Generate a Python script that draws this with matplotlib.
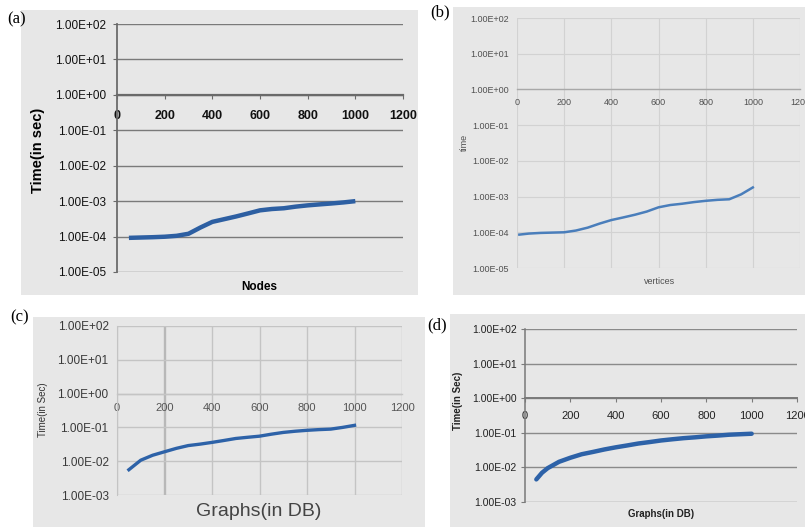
import matplotlib
matplotlib.use('Agg')
import matplotlib.pyplot as plt
from matplotlib.patches import Rectangle
from matplotlib.ticker import FixedLocator, FixedFormatter, NullLocator

W, H = 805, 527

# (a) time vs nodes
nodes_a = [50, 100, 150, 200, 250, 300, 350, 400, 450, 500, 550, 600, 650,
           700, 750, 800, 850, 900, 950, 1000]
time_a = [9.2e-5, 9.4e-5, 9.6e-5, 9.9e-5, 1.05e-4, 1.2e-4, 1.8e-4, 2.6e-4,
          3.1e-4, 3.7e-4, 4.5e-4, 5.5e-4, 6.0e-4, 6.3e-4, 7.0e-4, 7.6e-4,
          8.1e-4, 8.6e-4, 9.2e-4, 1.0e-3]

# (b) time vs vertices
vert_b = [10, 50, 100, 150, 200, 250, 300, 350, 400, 450, 500, 550, 600, 650,
          700, 750, 800, 850, 900, 950, 1000]
time_b = [8.6e-5, 9.2e-5, 9.6e-5, 9.8e-5, 1.0e-4, 1.12e-4, 1.35e-4, 1.75e-4,
          2.2e-4, 2.6e-4, 3.1e-4, 3.8e-4, 5.0e-4, 5.8e-4, 6.3e-4, 7.0e-4,
          7.6e-4, 8.1e-4, 8.4e-4, 1.15e-3, 1.8e-3]

# (c) time vs graphs in DB
graphs_c = [50, 100, 150, 200, 250, 300, 350, 400, 450, 500, 550, 600, 650,
            700, 750, 800, 850, 900, 950, 1000]
time_c = [5.6e-3, 1.07e-2, 1.5e-2, 1.9e-2, 2.4e-2, 2.9e-2, 3.2e-2, 3.6e-2,
          4.1e-2, 4.7e-2, 5.1e-2, 5.5e-2, 6.3e-2, 7.1e-2, 7.7e-2, 8.2e-2,
          8.6e-2, 8.9e-2, 1.0e-1, 1.15e-1]

# (d) time vs graphs in DB
graphs_d = [50, 75, 100, 150, 200, 250, 300, 350, 400, 450, 500, 550, 600,
            650, 700, 750, 800, 850, 900, 950, 1000]
time_d = [4.5e-3, 7e-3, 9.5e-3, 1.45e-2, 1.9e-2, 2.4e-2, 2.8e-2, 3.3e-2,
          3.8e-2, 4.3e-2, 4.9e-2, 5.4e-2, 6.0e-2, 6.5e-2, 7.0e-2, 7.4e-2,
          7.9e-2, 8.3e-2, 8.8e-2, 9.1e-2, 9.4e-2]

x_ticks = [0, 200, 400, 600, 800, 1000, 1200]
exp_ab = [2, 1, 0, -1, -2, -3, -4, -5]
exp_cd = [2, 1, 0, -1, -2, -3]


def box(l, t, r, b):
    # pixel box (from top-left) -> figure fraction
    return [l / W, 1 - b / H, (r - l) / W, (b - t) / H]


def ftext(fig, x, y, s, **kw):
    fig.text(x / W, 1 - y / H, s, ha='center', va='center', **kw)


def bg(fig, l, t, r, b):
    fig.patches.append(Rectangle((l / W, 1 - b / H), (r - l) / W, (b - t) / H,
                                 transform=fig.transFigure, facecolor='#e7e7e7',
                                 edgecolor='none', zorder=-1))


def setup(ax, exps, ylab_size, xlab_size, ylab_color, xlab_color,
          grid_color, grid_lw, axis_color, axis_lw, vgrid, ticks,
          xweight='normal', xpad=6, ypad=5):
    ax.set_facecolor('none')
    ax.set_yscale('log')
    ax.set_xlim(0, 1200)
    ax.set_ylim(10.0 ** min(exps), 10.0 ** max(exps))
    vals = [10.0 ** e for e in exps]
    labs = ['1.00E%s%02d' % ('+' if e >= 0 else '-', abs(e)) for e in exps]
    ax.yaxis.set_major_locator(FixedLocator(vals))
    ax.yaxis.set_major_formatter(FixedFormatter(labs))
    ax.yaxis.set_minor_locator(NullLocator())
    ax.xaxis.set_major_locator(FixedLocator(x_ticks))
    ax.xaxis.set_major_formatter(FixedFormatter([str(t) for t in x_ticks]))
    ax.spines['top'].set_visible(False)
    ax.spines['right'].set_visible(False)
    ax.spines['bottom'].set_position(('data', 1.0))
    ax.spines['bottom'].set_color(axis_color)
    ax.spines['bottom'].set_linewidth(axis_lw)
    ax.spines['left'].set_color(axis_color)
    ax.spines['left'].set_linewidth(axis_lw * 0.8)
    ax.grid(axis='y', color=grid_color, lw=grid_lw)
    if vgrid:
        ax.grid(axis='x', color=grid_color, lw=grid_lw)
    ax.set_axisbelow(True)
    tl = 3 if ticks else 0
    ax.tick_params(axis='y', length=tl, width=0.8, color=axis_color, pad=ypad,
                   labelsize=ylab_size, labelcolor=ylab_color)
    ax.tick_params(axis='x', length=tl, width=0.8, color=axis_color, pad=xpad,
                   labelsize=xlab_size, labelcolor=xlab_color)
    for t in ax.get_xticklabels():
        t.set_fontweight(xweight)


plt.rcParams['font.family'] = ['Liberation Sans', 'DejaVu Sans']
fig = plt.figure(figsize=(W / 100, H / 100), dpi=100)

# panel backgrounds
bg(fig, 21, 10, 418, 295)
bg(fig, 453, 7, 805, 295)
bg(fig, 33, 317, 425, 527)
bg(fig, 450, 314, 805, 527)

# (a)
ax = fig.add_axes(box(117, 24, 403, 272))
setup(ax, exp_ab, 8.5, 9, '#111111', '#111111', '#7a7a7a', 1.0,
      '#6a6a6a', 1.6, False, True, xweight='bold', xpad=8, ypad=5)
ax.plot(nodes_a, time_a, color='#2d5fa2', lw=3.2, solid_capstyle='butt')
ftext(fig, 38, 150, 'Time(in sec)', rotation=90, fontsize=10.5, fontweight='bold')
ftext(fig, 259, 287, 'Nodes', fontsize=8.5, fontweight='bold')

# (b)
ax = fig.add_axes(box(517, 18, 800, 268))
setup(ax, exp_ab, 6.5, 6.5, '#505050', '#505050', '#d2d2d2', 0.8,
      '#a8a8a8', 1.0, True, False, xpad=6, ypad=6)
ax.spines['left'].set_visible(False)
ax.plot(vert_b, time_b, color='#4a7ebb', lw=1.8)
ftext(fig, 464, 142, 'time', rotation=90, fontsize=6.5, color='#505050')
ftext(fig, 660, 281, 'vertices', fontsize=6.5, color='#505050')

# (c)
ax = fig.add_axes(box(117, 326, 402, 495))
setup(ax, exp_cd, 8.5, 8, '#3a3a3a', '#555555', '#c4c4c4', 1.0,
      '#c4c4c4', 1.0, True, False, xpad=7, ypad=6)
ax.get_xgridlines()[1].set_linewidth(1.7)
ax.get_xgridlines()[1].set_color('#b8b8b8')
ax.plot(graphs_c, time_c, color='#2d62a8', lw=2.4)
ftext(fig, 43, 410, 'Time(in Sec)', rotation=90, fontsize=7, color='#333333')
ftext(fig, 259, 511, 'Graphs(in DB)', fontsize=14, color='#444444')

# (d)
ax = fig.add_axes(box(525, 329, 797, 502))
setup(ax, exp_cd, 7.5, 8, '#222222', '#222222', '#8a8a8a', 1.0,
      '#7a7a7a', 1.4, False, True, xpad=6, ypad=3)
ax.plot(graphs_d, time_d, color='#2d62a8', lw=3.2, solid_capstyle='round')
ftext(fig, 458, 401, 'Time(in Sec)', rotation=90, fontsize=7, fontweight='bold',
      color='#222222')
ftext(fig, 661, 514, 'Graphs(in DB)', fontsize=7, fontweight='bold', color='#222222')

# panel letters
for lx, ly, s in [(17, 19, '(a)'), (440, 12, '(b)'), (20, 317, '(c)'), (437, 325, '(d)')]:
    ftext(fig, lx, ly, s, fontsize=12, family=['Liberation Serif', 'DejaVu Serif'])

fig.savefig('out.png', dpi=100)
